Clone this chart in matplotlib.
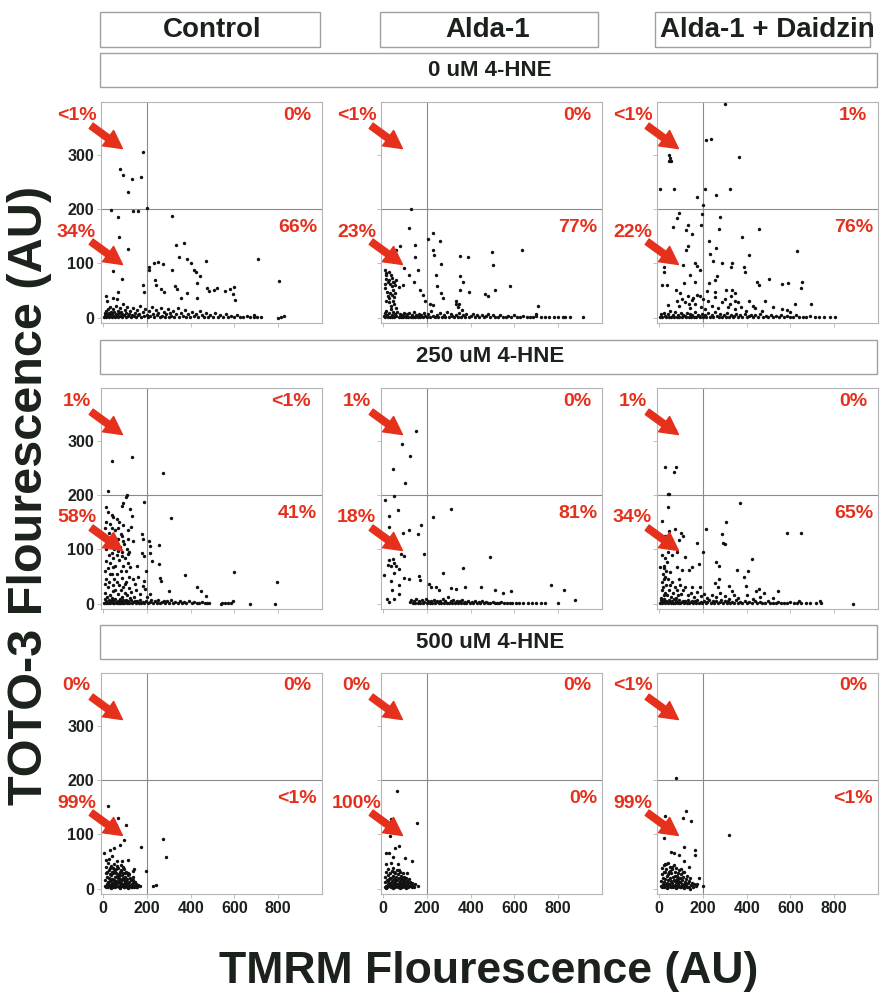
""" quadrant scatter grid: TMRM vs TOTO-3 """
import matplotlib
matplotlib.use("Agg")
import matplotlib.pyplot as plt
from matplotlib.patches import Rectangle

plt.rcParams['font.family'] = ['Liberation Sans', 'DejaVu Sans']

columns = ["Control", "Alda-1", "Alda-1 + Daidzin"]
rows = ["0 uM 4-HNE", "250 uM 4-HNE", "500 uM 4-HNE"]
x_ticks = [0, 200, 400, 600, 800]
y_ticks = [0, 100, 200, 300]
gate_x = 200
gate_y = 200

# quadrant percentages: upper-left, upper-right, lower-left, lower-right
pct = [
    [("<1%", "0%", "34%", "66%"), ("<1%", "0%", "23%", "77%"), ("<1%", "1%", "22%", "76%")],
    [("1%", "<1%", "58%", "41%"), ("1%", "0%", "18%", "81%"), ("1%", "0%", "34%", "65%")],
    [("0%", "0%", "99%", "<1%"), ("0%", "0%", "100%", "0%"), ("<1%", "0%", "99%", "<1%")],
]

# ---- cells (TMRM, TOTO-3) ----
ctrl_0 = [(75,275),(90,263),(132,255),(173,260),(182,306),(112,232),(37,199),(66,186),(136,196),(158,196),
          (200,202),(70,148),(113,127),(44,86),(86,71),(67,48),(315,188),(334,134),(369,138),(345,111),
          (385,109),(400,101),(416,88),(423,85),(441,76),(430,63),(469,105),(208,94),(211,88),(234,100),
          (250,103),(274,99),(315,88),(239,69),(243,60),(262,52),(277,48),(182,60),(188,48),(329,58),
          (338,52),(354,36),(385,45),(430,36),(473,54),(484,49),(507,51),(522,55),(556,49),(579,52),
          (599,57),(593,44),(602,33),(706,108),(803,68),(813,2),(828,3),(798,0),(690,2),(14,39),(17,30),
          (47,36),(63,34),
          (3,2),(6,8),(9,4),(12,12),(14,1),(17,6),(20,15),(22,3),(25,9),(28,1),(30,20),(33,5),(36,11),
          (39,2),(42,7),(45,16),(48,3),(51,10),(54,1),(57,6),(60,22),(63,4),(66,13),(69,2),(72,8),(75,18),
          (78,3),(81,11),(84,1),(87,6),(90,25),(94,4),(98,14),(102,2),(106,9),(110,20),(114,3),(118,7),
          (122,12),(126,1),(130,5),(135,18),(140,3),(145,9),(150,1),(155,14),(160,4),(165,7),(170,22),
          (175,2),(180,10),(186,3),(192,16),(198,5),(204,1),(210,12),(216,3),(222,20),(228,6),(234,2),
          (240,14),(246,4),(252,8),(258,1),(264,18),(270,3),(276,10),(282,2),(288,6),(294,15),(300,1),
          (306,8),(312,3),(318,12),(325,2),(332,6),(340,18),(348,1),(356,9),(364,3),(372,14),(380,2),
          (388,6),(396,1),(405,10),(414,3),(423,7),(432,1),(441,12),(450,4),(460,2),(470,8),(480,1),
          (490,5),(500,2),(512,9),(524,1),(536,4),(548,2),(560,7),(572,1),(585,3),(598,1),(612,5),
          (626,2),(640,1),(655,3),(670,1),(690,4),(705,1),(720,2)]

alda_0 = [(128,200),(120,165),(146,134),(146,111),(77,133),(58,125),(5,106),(12,82),(35,79),(51,65),
          (74,57),(89,60),(43,51),(28,36),(43,31),(97,91),(120,79),(143,66),(158,88),(170,51),(181,42),
          (189,30),(205,146),(227,156),(227,125),(232,116),(258,141),(266,99),(243,79),(248,58),(212,26),
          (227,23),(266,45),(274,36),(351,113),(386,111),(351,76),(366,65),(351,51),(392,48),(331,26),
          (340,20),(358,14),(335,30),(345,25),(497,121),(503,97),(512,51),(466,44),(481,39),(578,59),
          (635,124),(707,22),(697,7),(820,2),(912,2),
          (8,88),(15,72),(20,65),(25,70),(30,62),(38,58),(45,66),(52,60),(10,55),(18,48),(22,40),(32,45),
          (40,42),(48,38),(55,46),(12,30),(26,28),(36,22),(50,25),(60,18),(6,62),(14,78),(28,84),(42,74),
          (58,70),
          (2,3),(6,8),(10,1),(14,12),(18,4),(22,2),(26,9),(30,1),(34,15),(38,5),(42,2),(46,10),(50,1),
          (55,6),(60,3),(65,11),(70,1),(75,7),(80,2),(85,4),(90,1),(95,9),(100,3),(105,1),(110,6),(115,2),
          (120,8),(125,1),(130,4),(135,2),(140,10),(145,1),(150,5),(155,3),(160,1),(165,7),(170,2),
          (175,4),(180,1),(186,9),(192,3),(198,1),(205,6),(212,2),(220,12),(228,3),(236,1),(244,5),
          (252,2),(260,8),(268,1),(276,4),(284,2),(292,10),(300,1),(308,6),(316,3),(324,1),(332,5),
          (340,2),(348,8),(356,1),(364,4),(372,2),(380,6),(390,1),(400,3),(410,7),(420,1),(430,4),
          (440,2),(450,5),(460,1),(470,3),(480,6),(490,1),(500,4),(512,2),(524,1),(536,5),(548,2),
          (560,1),(572,3),(585,1),(598,4),(612,2),(626,1),(640,3),(655,1),(670,2),(685,1),(700,3),
          (720,1),(740,2),(760,1),(780,2),(800,1),(830,1),(855,2)]

daid_0 = [(300,395),(215,327),(238,329),(366,297),(43,300),(49,294),(43,289),(54,290),(5,237),(69,237),
          (208,237),(258,226),(323,237),(174,223),(200,208),(197,191),(89,193),(80,183),(62,168),
          (131,171),(123,161),(151,154),(192,171),(277,186),(274,163),(458,164),(380,148),(228,142),
          (261,129),(131,133),(123,124),(234,117),(246,105),(412,116),(631,123),(23,94),(20,85),(111,97),
          (162,100),(172,95),(185,88),(143,79),(162,66),(115,63),(77,51),(95,45),(15,61),(35,61),(38,23),
          (285,100),(331,100),(328,94),(388,94),(392,85),(266,77),(257,69),(228,63),(218,49),(254,48),
          (305,51),(331,51),(346,45),(446,66),(500,71),(454,60),(561,62),(589,63),(654,65),(646,54),
          (620,25),(692,26),(485,31),(585,14),(138,26),(154,36),(185,39),(323,26),(346,30),(431,22),
          (80,30),(92,22),(105,35),(118,28),(130,40),(140,18),(150,32),(165,25),(175,42),(190,20),
          (200,35),(210,15),(225,30),(240,22),(255,38),(270,18),(285,28),(300,35),(315,20),(330,40),
          (345,15),(360,28),(375,20),(395,12),(410,30),(440,18),(470,12),(520,20),(560,15),(600,10),
          (3,2),(8,6),(14,1),(20,9),(26,3),(32,1),(38,7),(44,2),(50,12),(56,1),(62,5),(68,2),(74,10),
          (80,1),(86,4),(92,2),(98,8),(104,1),(110,5),(116,3),(122,1),(128,9),(134,2),(140,6),(146,1),
          (152,4),(158,2),(164,11),(170,1),(176,5),(182,3),(188,1),(194,7),(200,2),(208,4),(216,1),
          (224,8),(232,2),(240,5),(248,1),(256,10),(264,3),(272,1),(280,6),(288,2),(296,4),(304,1),
          (312,8),(320,2),(328,5),(336,1),(344,3),(352,7),(360,1),(370,4),(380,2),(390,6),(400,1),
          (410,3),(420,5),(430,1),(440,4),(450,2),(462,6),(474,1),(486,3),(498,2),(510,5),(522,1),
          (534,3),(546,2),(558,4),(570,1),(584,3),(598,1),(612,2),(626,4),(640,1),(655,2),(670,1),
          (690,3),(710,1),(730,2),(755,1),(780,2),(805,1)]

ctrl_250 = [(42,264),(131,271),(272,241),(23,207),(111,201),(105,196),(92,185),(85,181),(11,178),
            (123,175),(131,162),(188,187),(38,164),(46,159),(15,150),(31,147),(62,156),(72,150),(92,146),
            (128,141),(308,158),(115,135),(80,128),(54,122),(69,119),(92,115),(115,119),(177,128),
            (180,119),(208,116),(257,109),(215,107),(138,116),(54,104),(38,94),(69,97),(85,88),(112,91),
            (177,94),(186,88),(215,94),(223,78),(254,73),(154,70),(123,67),(15,79),(8,60),(31,54),(46,67),
            (62,54),(85,48),(100,36),(146,36),(185,42),(192,27),(215,17),(261,48),(265,41),(372,52),
            (600,59),(795,40),(300,23),(431,30),(446,23),(469,14),(669,0),(784,0),(592,5),(538,0),(8,36),
            (23,30),(46,23),
            (5,120),(10,140),(12,100),(18,115),(20,170),(25,90),(28,130),(33,75),(36,110),(40,140),
            (44,85),(48,100),(52,135),(56,70),(60,110),(64,90),(68,140),(72,80),(76,105),(80,60),(84,125),
            (88,95),(92,70),(96,110),(100,85),(104,60),(108,100),(112,75),(116,50),(120,95),(8,20),
            (14,45),(20,65),(26,40),(32,15),(38,55),(44,35),(50,45),(56,25),(62,40),(68,18),(74,35),
            (80,25),(86,12),(92,30),(98,20),(104,40),(110,15),(116,28),(122,10),(128,22),(134,45),
            (140,12),(150,25),(160,50),(170,18),(180,32),(195,60),(200,12),
            (3,2),(7,8),(11,1),(15,5),(19,12),(23,2),(27,7),(31,1),(35,4),(39,10),(43,2),(47,6),(51,1),
            (55,9),(59,3),(63,1),(67,5),(71,2),(75,8),(79,1),(83,4),(87,2),(91,6),(95,1),(100,3),(105,7),
            (110,1),(115,4),(120,2),(126,6),(132,1),(138,3),(144,5),(150,1),(156,4),(162,2),(168,6),
            (174,1),(180,3),(188,2),(196,5),(204,1),(212,3),(220,6),(228,1),(236,4),(244,2),(252,7),
            (260,1),(268,3),(276,5),(284,1),(292,4),(300,2),(310,6),(320,1),(330,3),(340,2),(350,5),
            (360,1),(370,3),(380,2),(392,4),(404,1),(416,3),(428,2),(440,1),(452,3),(464,1),(476,2),
            (485,1),(545,2),(558,1),(570,2),(582,1)]

alda_250 = [(150,319),(84,295),(124,272),(46,248),(101,223),(9,192),(50,198),(25,162),(66,172),(25,141),
            (92,131),(116,136),(161,128),(173,145),(226,159),(311,175),(66,107),(81,91),(93,88),(28,81),
            (43,82),(50,75),(20,72),(35,69),(58,69),(74,63),(50,56),(5,53),(35,41),(40,25),(74,34),(71,17),
            (96,48),(119,45),(165,51),(168,44),(188,91),(272,56),(364,66),(487,86),(211,37),(219,30),
            (242,31),(257,25),(311,28),(334,27),(376,30),(448,31),(510,25),(548,20),(586,24),(767,34),
            (826,26),(877,6),(800,2),(739,2),(17,9),(28,3),(50,8),
            (122,3),(128,7),(134,1),(140,5),(146,2),(152,9),(158,1),(164,4),(170,2),(176,6),(182,1),
            (188,3),(194,8),(200,2),(206,5),(212,1),(218,4),(224,2),(230,7),(236,1),(242,3),(248,5),
            (254,1),(260,4),(266,2),(272,9),(278,1),(284,5),(290,2),(296,12),(302,1),(308,4),(314,2),
            (320,6),(326,1),(332,3),(338,5),(344,1),(350,4),(356,2),(362,6),(368,1),(374,3),(380,2),
            (388,5),(396,1),(404,3),(412,2),(420,5),(428,1),(436,3),(444,2),(452,4),(460,1),(470,3),
            (480,2),(490,1),(500,3),(510,1),(520,2),(530,1),(540,3),(552,1),(565,2),(578,1),(590,2),
            (605,1),(620,2),(640,1),(660,2),(680,1),(700,2),(720,1)]

daid_250 = [(71,321),(25,253),(78,253),(69,243),(38,203),(46,202),(40,178),(369,186),(15,153),(74,138),
            (101,130),(109,125),(92,118),(43,134),(28,125),(51,118),(212,137),(307,151),(286,128),
            (293,112),(300,110),(173,111),(201,96),(28,106),(40,96),(58,90),(81,96),(120,86),(35,77),
            (20,65),(51,58),(81,68),(104,62),(135,62),(150,68),(181,74),(5,68),(89,46),(120,30),(150,30),
            (188,30),(261,76),(273,69),(255,38),(273,46),(270,30),(319,33),(335,24),(357,62),(388,49),
            (408,60),(426,82),(396,33),(442,24),(457,27),(480,19),(541,23),(518,11),(583,130),(649,130),
            (733,5),(886,0),(641,5),
            (10,10),(12,25),(14,40),(16,55),(18,30),(20,70),(22,15),(24,45),(26,85),(28,20),(30,60),
            (32,35),(15,90),(25,50),(35,15),(40,45),(45,25),(50,35),(55,12),(60,40),(65,20),(70,30),
            (75,10),(80,25),(85,15),(95,35),(100,18),(110,25),(130,15),(145,20),(160,12),(175,22),
            (190,14),(205,18),(220,10),(240,16),(260,12),(280,20),(300,14),(320,8),(340,16),(360,10),
            (400,15),(430,8),(460,12),
            (3,2),(8,6),(13,1),(18,4),(23,9),(28,2),(33,5),(38,1),(43,7),(48,3),(53,1),(58,5),(63,2),
            (68,8),(73,1),(78,4),(84,2),(90,6),(96,1),(102,3),(108,5),(114,1),(120,4),(126,2),(132,7),
            (138,1),(144,3),(150,5),(156,1),(162,4),(168,2),(175,6),(182,1),(189,3),(196,2),(204,5),
            (212,1),(220,3),(228,6),(236,1),(244,4),(252,2),(260,5),(268,1),(276,3),(284,7),(292,1),
            (300,4),(308,2),(316,5),(324,1),(332,3),(340,2),(350,6),(360,1),(370,3),(380,2),(390,4),
            (400,1),(412,3),(424,2),(436,5),(448,1),(460,3),(472,1),(484,2),(496,4),(508,1),(520,2),
            (532,1),(544,3),(556,1),(570,2),(585,1),(600,3),(615,1),(630,2),(650,1),(670,2),(690,1),
            (715,2),(740,1)]

ctrl_500 = [(23,153),(66,131),(105,117),(58,117),(94,89),(78,80),(51,74),(31,71),(174,77),(274,91),
            (289,58),(5,65),(12,52),(112,52),(143,37),(135,33),(194,33),(228,4),(243,6),(166,4),
            (8,5),(10,15),(12,28),(14,40),(16,8),(18,22),(20,48),(22,3),(24,12),(26,35),(28,55),(30,18),
            (32,6),(34,42),(36,25),(38,10),(40,60),(42,30),(44,2),(46,16),(48,45),(50,8),(52,22),(54,35),
            (56,4),(58,14),(60,28),(62,50),(64,10),(66,20),(68,38),(70,2),(72,12),(74,26),(76,6),(78,18),
            (80,32),(82,44),(84,4),(86,15),(88,25),(90,8),(92,20),(94,36),(96,3),(98,12),(100,22),(102,6),
            (104,30),(106,14),(108,2),(110,18),(112,8),(115,25),(118,4),(120,12),(123,20),(126,6),
            (129,15),(132,3),(135,10),(138,22),(141,5),(144,12),(148,3),(152,8),(156,2),(160,6),(18,30),
            (25,20),(35,5),(45,28),(55,12),(65,42),(75,30),(85,50),(95,18),(105,8),(30,38),(40,18),
            (50,32),(60,6),(70,24),(80,10),(90,40),(100,28),(110,4),(120,26),(130,8),
            (15,2),(25,6),(35,1),(45,9),(55,2),(65,5),(75,1),(85,7),(95,2),(105,4),(115,1),(125,3),
            (20,10),(30,26),(40,8),(50,16),(60,36),(70,14),(80,4),(90,28),(100,16),(110,10),(120,4),
            (135,16),(33,14),(43,38),(53,4),(63,24),(73,18),(83,34),(93,8),(103,14),(113,28),(140,2)]

alda_500 = [(61,180),(35,128),(156,121),(31,97),(73,79),(54,74),(12,66),(28,65),(46,59),(99,57),
            (133,51),(15,46),(35,48),(66,46),(107,28),(161,4),
            (6,3),(8,12),(10,22),(12,5),(14,30),(16,15),(18,2),(20,25),(22,8),(24,36),(26,18),(28,4),
            (30,28),(32,10),(34,20),(36,2),(38,32),(40,14),(42,6),(44,24),(46,38),(48,10),(50,18),(52,3),
            (54,28),(56,12),(58,22),(60,6),(62,34),(64,16),(66,2),(68,26),(70,10),(72,20),(74,4),(76,30),
            (78,14),(80,8),(82,24),(84,2),(86,18),(88,10),(90,28),(92,5),(94,15),(96,22),(98,3),(100,12),
            (103,20),(106,6),(109,14),(112,2),(115,10),(118,18),(121,4),(124,12),(127,8),(130,2),
            (133,10),(136,5),(140,3),(145,8),(20,14),(30,20),(40,3),(50,30),(60,15),(70,34),(80,20),
            (90,12),(15,1),(25,5),(35,8),(45,1),(55,6),(65,9),(75,1),(85,5),(95,8),(105,1),(115,4)]

daid_500 = [(77,205),(124,144),(109,130),(145,125),(28,134),(20,93),(318,98),(115,77),(162,72),(165,62),
            (54,67),(69,65),(89,62),(115,50),(28,46),(135,40),(181,19),(173,9),(200,5),(142,0),
            (8,4),(10,14),(12,26),(14,38),(16,8),(18,20),(20,44),(22,2),(24,12),(26,30),(28,18),(30,6),
            (32,36),(34,24),(36,10),(38,48),(40,2),(42,16),(44,30),(46,8),(48,40),(50,20),(52,4),(54,14),
            (56,28),(58,36),(60,10),(62,22),(64,2),(66,44),(68,16),(70,30),(72,6),(74,24),(76,12),(78,38),
            (80,2),(82,18),(84,28),(86,8),(88,14),(90,34),(92,4),(94,20),(96,12),(98,26),(100,2),(103,16),
            (106,8),(109,22),(112,4),(115,30),(118,12),(121,18),(124,6),(127,24),(130,10),(134,3),
            (138,14),(142,20),(146,6),(150,10),(155,3),(160,8),(170,4),(20,30),(30,46),(40,26),(50,32),
            (60,40),(70,14),(80,24),(90,20),(100,36),(110,30),(120,8),
            (15,2),(25,6),(35,1),(45,9),(55,2),(65,5),(75,1),(85,7),(95,2),(105,4),(115,1),(125,3)]

cells = [[ctrl_0, alda_0, daid_0],
         [ctrl_250, alda_250, daid_250],
         [ctrl_500, alda_500, daid_500]]

W, H = 880, 1001
RED = '#e5301c'
INK = '#1b211b'


def fig_rect(x0, y0, x1, y1):
    """pixel box (top-left origin) -> figure fraction rect"""
    return [x0 / W, 1 - y1 / H, (x1 - x0) / W, (y1 - y0) / H]


def draw_panel(ax, pts, labels, show_x, show_y):
    xs = [p[0] for p in pts]
    ys = [p[1] for p in pts]
    ax.scatter(xs, ys, s=6, c='#111111', linewidths=0, zorder=3)
    ax.axvline(gate_x, color='#8a8a8a', lw=0.8, zorder=1)
    ax.axhline(gate_y, color='#8a8a8a', lw=0.8, zorder=1)
    ax.set_xlim(-10, 1000)
    ax.set_ylim(-10, 398)
    ax.set_xticks(x_ticks)
    ax.set_yticks(y_ticks)
    for s in ax.spines.values():
        s.set_color('#b5b5b5')
        s.set_linewidth(0.8)
    ax.tick_params(length=3, width=0.6, color='#b5b5b5', labelsize=11.5, labelcolor=INK, pad=2)
    if not show_x:
        ax.set_xticklabels([])
    if not show_y:
        ax.set_yticklabels([])
    for t in ax.get_xticklabels() + ax.get_yticklabels():
        t.set_fontweight('bold')

    ul, ur, ll, lr = labels
    kw = dict(color=RED, fontsize=14, fontweight='bold', clip_on=False, va='center')
    ax.text(-122, 374, ul, ha='center', **kw)
    ax.text(-122, 158, ll, ha='center', **kw)
    ax.text(950, 374, ur, ha='right', **kw)
    ax.text(978, 166, lr, ha='right', **kw)
    arrow = dict(arrowstyle='simple,head_length=0.8,head_width=0.85,tail_width=0.3',
                 color=RED, shrinkA=0, shrinkB=0, mutation_scale=16)
    ax.annotate('', xy=(88, 312), xytext=(-55, 354), arrowprops=arrow, annotation_clip=False)
    ax.annotate('', xy=(88, 98), xytext=(-55, 140), arrowprops=arrow, annotation_clip=False)


def main():
    fig = plt.figure(figsize=(W / 100, H / 100), dpi=100)
    fig.patch.set_facecolor('white')

    col_left = [101, 381, 657]
    row_top = [102, 388, 673]
    size = 221

    # column header boxes
    col_boxes = [(100, 320), (380, 598), (655, 870)]
    col_cx = [212, 488, 767]
    for name, (x0, x1), cx in zip(columns, col_boxes, col_cx):
        fig.add_artist(Rectangle(fig_rect(x0, 12, x1, 47)[:2], (x1 - x0) / W, 35 / H,
                                 transform=fig.transFigure, fill=False, ec='#a0a0a0', lw=1))
        fig.text(cx / W, 1 - 30 / H, name, ha='center', va='center', fontsize=20,
                 fontweight='bold', color=INK)

    # row header boxes
    row_box_top = [53, 340, 625]
    for name, top in zip(rows, row_box_top):
        fig.add_artist(Rectangle(fig_rect(100, top, 877, top + 34)[:2], 777 / W, 34 / H,
                                 transform=fig.transFigure, fill=False, ec='#a0a0a0', lw=1))
        fig.text(490 / W, 1 - (top + 17) / H, name, ha='center', va='center', fontsize=16,
                 fontweight='bold', color=INK)

    for r in range(3):
        for c in range(3):
            ax = fig.add_axes(fig_rect(col_left[c], row_top[r], col_left[c] + size, row_top[r] + size))
            draw_panel(ax, cells[r][c], pct[r][c], show_x=(r == 2), show_y=(c == 0))

    fig.text(30 / W, 1 - 495 / H, "TOTO-3 Flourescence (AU)", rotation=90, ha='center', va='center',
             fontsize=35, fontweight='bold', color=INK)
    fig.text(489 / W, 1 - 972 / H, "TMRM Flourescence (AU)", ha='center', va='center',
             fontsize=32, fontweight='bold', color=INK)

    fig.savefig('out.png', dpi=100, facecolor='white')


if __name__ == "__main__":
    main()
